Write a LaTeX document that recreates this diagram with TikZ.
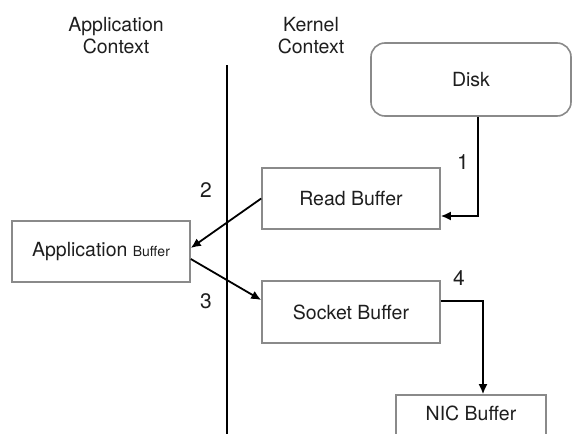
\documentclass[tikz,border=0pt]{standalone}
\usepackage{fontspec}
\setmainfont{TeX Gyre Heros}
\usetikzlibrary{arrows.meta}
\definecolor{boxgray}{HTML}{8A8A8A}
\definecolor{ink}{HTML}{1E1E1E}
\begin{document}
\begin{tikzpicture}[x=1pt,y=-1pt,
  box/.style={draw=boxgray, line width=1.6pt, rectangle, inner sep=0pt,
    minimum width=178pt, minimum height=61pt, text=ink,
    font=\fontsize{19.5}{23}\selectfont},
  lbl/.style={font=\fontsize{19.5}{22}\selectfont, align=center, text=ink},
  num/.style={font=\fontsize{21}{24}\selectfont, text=ink},
  arr/.style={draw=black, line width=1.8pt, -{Latex[length=10pt,width=9pt]}}]
\useasboundingbox (0,0) rectangle (582,434);
\clip (0,0) rectangle (582,434);
\fill[white] (0,0) rectangle (582,434);

% headings
\node[lbl] (apphead) at (116,36) {Application\\Context};
\node[lbl] (kernhead) at (311,36) {Kernel\\Context};

% divider
\coordinate (vtop) at (227,65);
\coordinate (vbot) at (227,440);
\draw[line width=2.2pt, black] (vtop) -- (vbot);

% boxes
\node[box, rounded corners=14pt, minimum width=200pt, minimum height=73pt] (disk) at (471,79.5) {Disk};
\node[box] (read) at (351,198.5) {Read Buffer};
\node[box] (app) at (101,251.5) {Application {\fontsize{14}{16}\selectfont Buffer}};
\node[box, minimum height=62pt] (sock) at (351,312) {Socket Buffer};
\node[box, minimum width=150pt, minimum height=60pt] (nic) at (471,425) {};
\node[lbl] (nictext) at (471,413) {NIC Buffer};

% arrows
\draw[arr] ([xshift=7pt]disk.south) |- ([yshift=-17.5pt]read.east);
\draw[arr] (read.west) -- ([yshift=3.5pt]app.east);
\draw[arr] ([yshift=-7.5pt]app.east) -- ([yshift=12pt]sock.west);
\draw[arr] ([yshift=11pt]sock.east) -| ([xshift=12pt]nic.north);

% step numbers
\node[num] (n1) at (463,162) {1};
\node[num] (n2) at (206,190) {2};
\node[num] (n3) at (206,301) {3};
\node[num] (n4) at (459,278) {4};
\end{tikzpicture}
\end{document}
